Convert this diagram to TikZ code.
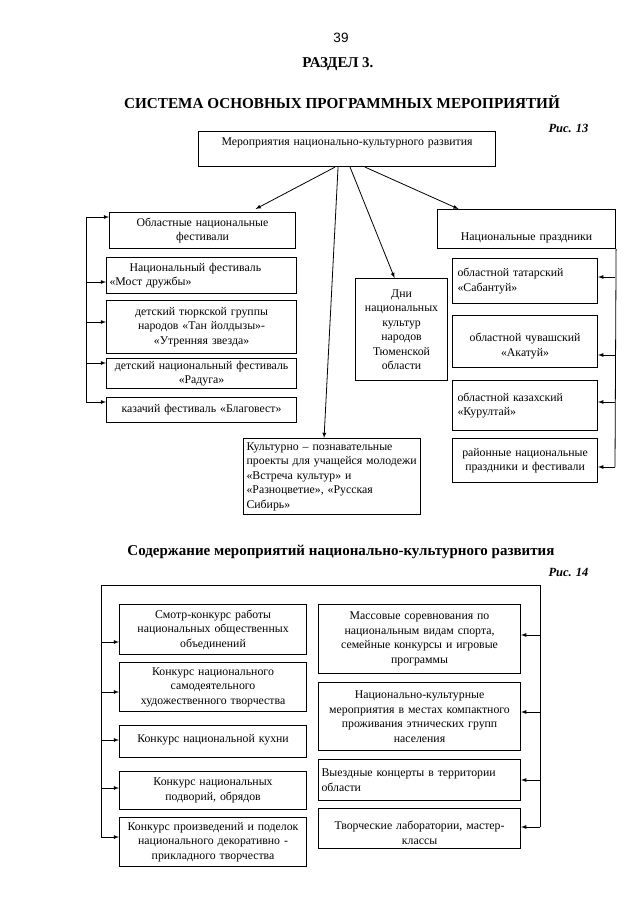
\documentclass[tikz,border=0pt]{standalone}
\usepackage{fontspec}
\setmainfont{Liberation Serif}
\newfontfamily\numfont{Liberation Sans}
\usetikzlibrary{arrows,calc}

\tikzset{
  blk/.style={draw, line width=1.1pt, rectangle, anchor=north west,
    inner xsep=3pt, inner ysep=1pt, align=center,
    font=\fontsize{11.8}{14.5}\selectfont},
  lblk/.style={blk, align=left},
  arr/.style={-latex, line width=0.8pt},
  trunk/.style={line width=0.8pt},
}

\begin{document}
\begin{tikzpicture}[x=1pt,y=-1pt]
\useasboundingbox (0,0) rectangle (640,905);

% headings
\node[font=\numfont\fontsize{13.5}{15}\selectfont] (pnum) at (341,38) {39};
\node[font=\bfseries\fontsize{15}{17}\selectfont] (sect) at (338,64) {РАЗДЕЛ 3.};
\node[font=\bfseries\fontsize{15.2}{17}\selectfont] (ttl) at (342,102) {СИСТЕМА ОСНОВНЫХ ПРОГРАММНЫХ МЕРОПРИЯТИЙ};
\node[font=\bfseries\itshape\fontsize{12.5}{14}\selectfont, anchor=east] (fig13) at (592,128) {Рис. 13};

% Fig. 13
\node[blk, text width=291pt, minimum height=35pt, text depth=14pt] (main) at (198,131) {Мероприятия национально-культурного развития};

\node[blk, text width=180pt, minimum height=36pt] (obl) at (109,212) {Областные национальные\\фестивали};
\node[lblk, text width=184pt, minimum height=36pt] (most) at (106,257) {\hspace*{20pt}Национальный фестиваль\\«Мост дружбы»};
\node[blk, text width=184pt, minimum height=53pt] (turk) at (106,300) {детский тюркской группы\\народов «Тан йолдызы»-\\«Утренняя звезда»};
\node[blk, text width=184pt, minimum height=30pt] (rad) at (106,358) {детский национальный фестиваль\\«Радуга»};
\node[blk, text width=184pt, minimum height=25pt] (kaz) at (106,397) {казачий фестиваль «Благовест»};

\node[blk, text width=86pt, minimum height=102pt] (dni) at (355,278) {Дни\\национальных\\культур\\народов\\Тюменской\\области};
\node[lblk, text width=171pt, minimum height=76pt] (kult) at (243,438) {Культурно – познавательные\\проекты для учащейся молодежи\\«Встреча культур» и\\«Разноцветие», «Русская\\Сибирь»};

\node[blk, text width=172pt, minimum height=39pt, text height=26pt] (prazd) at (437,209) {Национальные праздники};
\node[lblk, text width=135pt, minimum height=45pt, inner xsep=5pt] (sab) at (452,258) {областной татарский\\«Сабантуй»};
\node[blk, text width=139pt, minimum height=52pt, text depth=8pt] (akat) at (452,315) {областной чувашский\\«Акатуй»};
\node[lblk, text width=135pt, minimum height=50pt, inner xsep=5pt] (kur) at (452,380) {областной казахский\\«Курултай»};
\node[blk, text width=139pt, minimum height=44pt] (rai) at (452,438) {районные национальные\\праздники и фестивали};

\draw[arr] ([xshift=-12pt]main.south) -- ([xshift=53pt,yshift=3pt]obl.north);
\draw[arr] ([xshift=-9pt]main.south) -- ([xshift=-8pt]kult.north);
\draw[arr] ([xshift=3pt]main.south) -- ([xshift=-7pt]dni.north);
\draw[arr] ([xshift=18pt]main.south) -- ([xshift=-68pt]prazd.north);

% left trunk
\coordinate (lt1) at (86,217);
\coordinate (lt2) at (86,282);
\coordinate (lt3) at (86,322);
\coordinate (lt4) at (86,363);
\coordinate (lt5) at (86,402);
\draw[trunk] (lt1) -- (lt5);
\foreach \c/\b in {lt1/obl,lt2/most,lt3/turk,lt4/rad,lt5/kaz}
  \draw[arr] (\c) -- (\c -| \b.west);

% right trunk
\coordinate (rt1) at (615,277);
\coordinate (rt2) at (615,355);
\coordinate (rt3) at (615,402);
\coordinate (rt4) at (615,467);
\draw[trunk] (prazd.south east) -- (rt4);
\foreach \c/\b in {rt1/sab,rt2/akat,rt3/kur,rt4/rai}
  \draw[arr] (\c) -- (\c -| \b.east);

% Fig. 14
\node[font=\bfseries\fontsize{15}{17}\selectfont] (ttl2) at (341,552) {Содержание мероприятий национально-культурного развития};
\node[font=\bfseries\itshape\fontsize{12.5}{14}\selectfont, anchor=east] (fig14) at (592,572) {Рис. 14};

\node[blk, text width=181pt, minimum height=50pt] (s1) at (119,604) {Смотр-конкурс работы\\национальных общественных\\объединений};
\node[blk, text width=181pt, minimum height=49pt] (s2) at (119,662) {Конкурс национального\\самодеятельного\\художественного творчества};
\node[blk, text width=181pt, minimum height=32pt, text depth=6pt] (s3) at (119,725) {Конкурс национальной кухни};
\node[blk, text width=181pt, minimum height=38pt] (s4) at (119,771) {Конкурс национальных\\подворий, обрядов};
\node[blk, text width=181pt, minimum height=49pt] (s5) at (119,817) {Конкурс произведений и поделок\\национального декоративно -\\прикладного творчества};

\node[blk, text width=196pt, minimum height=69pt] (r1) at (318,604) {Массовые соревнования по\\национальным видам спорта,\\семейные конкурсы и игровые\\программы};
\node[blk, text width=196pt, minimum height=68pt] (r2) at (318,682) {Национально-культурные\\мероприятия в местах компактного\\проживания этнических групп\\населения};
\node[lblk, text width=196pt, minimum height=41pt] (r3) at (318,759) {Выездные концерты в территории\\области};
\node[blk, text width=196pt, minimum height=40pt, text depth=6pt] (r4) at (318,808) {Творческие лаборатории, мастер-\\классы};

\coordinate (fcl) at (101,585);
\coordinate (fcr) at (540,585);
\coordinate (ft1) at (101,642);
\coordinate (ft2) at (101,692);
\coordinate (ft3) at (101,740);
\coordinate (ft4) at (101,788);
\coordinate (ft5) at (101,837);
\coordinate (fr1) at (540,635);
\coordinate (fr2) at (540,712);
\coordinate (fr3) at (540,780);
\coordinate (fr4) at (540,827);
\draw[trunk] (ft5) -- (fcl) -- (fcr) -- (fr4);
\foreach \c/\b in {ft1/s1,ft2/s2,ft3/s3,ft4/s4,ft5/s5}
  \draw[arr] (\c) -- (\c -| \b.west);
\foreach \c/\b in {fr1/r1,fr2/r2,fr3/r3,fr4/r4}
  \draw[arr] (\c) -- (\c -| \b.east);

\end{tikzpicture}
\end{document}
